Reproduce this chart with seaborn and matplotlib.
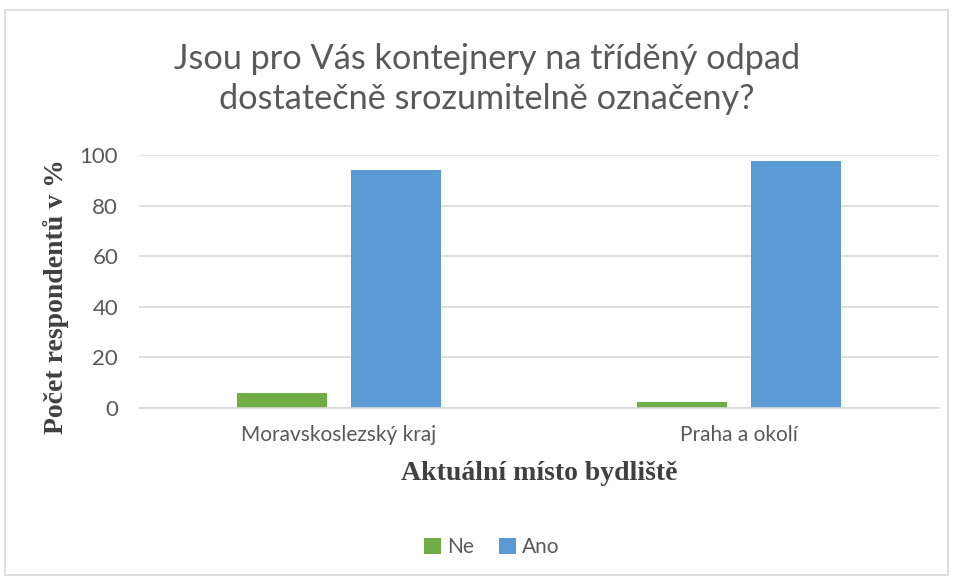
import pandas as pd
import matplotlib.pyplot as plt
import seaborn as sns
from matplotlib.patches import Rectangle

# data (percent of respondents)
kraje = ["Moravskoslezský kraj", "Praha a okolí"]
odpovedi = ["Ne", "Ano"]
ne = [5.9, 2.2]
ano = [94.1, 97.8]
barvy = ["#70AD47", "#5B9BD5"]

df = pd.DataFrame({
    "kraj": kraje * 2,
    "odpoved": ["Ne"] * len(kraje) + ["Ano"] * len(kraje),
    "procenta": ne + ano,
})

sns.set_theme(style="white")
plt.rcParams["font.family"] = ["Lato", "DejaVu Sans"]

fig = plt.figure(figsize=(9.54, 5.8), dpi=100)
ax = fig.add_axes([139 / 954, 1 - 408 / 580, 800 / 954, 253 / 580])

sns.barplot(data=df, x="kraj", y="procenta", hue="odpoved", hue_order=odpovedi,
            palette=barvy, saturation=1, width=0.57, gap=0.21, linewidth=0, ax=ax)

ax.set_ylim(0, 100)
ax.set_yticks(range(0, 101, 20))
ax.yaxis.grid(True, color="#d9d9d9", lw=1.2)
ax.set_axisbelow(True)
for s in ["top", "right", "left"]:
    ax.spines[s].set_visible(False)
ax.spines["bottom"].set_color("#d9d9d9")
ax.spines["bottom"].set_linewidth(1.2)
ax.tick_params(axis="y", length=0, pad=15, labelsize=16, labelcolor="#595959")
ax.tick_params(axis="x", length=0, pad=12, labelsize=15, labelcolor="#595959")

ax.set_xlabel("Aktuální místo bydliště", family="Liberation Serif", fontweight="bold",
              fontsize=20, color="#404040", labelpad=12)
ax.set_ylabel("Počet respondentů v %", family="Liberation Serif", fontweight="bold",
              fontsize=20, color="#404040")
ax.yaxis.set_label_coords(-0.088, 0.44)

fig.text(487 / 954, 1 - 79 / 580,
         "Jsou pro Vás kontejnery na tříděný odpad\ndostatečně srozumitelně označeny?",
         ha="center", va="center", fontsize=24.7, color="#595959", linespacing=1.3)

sns.move_legend(ax, "center", bbox_to_anchor=(492 / 954, 1 - 547 / 580),
                bbox_transform=fig.transFigure, ncol=2, frameon=False, title=None,
                fontsize=15, handlelength=0.8, handleheight=0.8, handletextpad=0.3,
                columnspacing=1.2)
for t in ax.get_legend().get_texts():
    t.set_color("#595959")

fig.patches.append(Rectangle((5 / 954, 5 / 580), 943 / 954, 565 / 580,
                             transform=fig.transFigure, fill=False,
                             edgecolor="#d9d9d9", lw=1.2))

fig.savefig("out.png", dpi=100)
